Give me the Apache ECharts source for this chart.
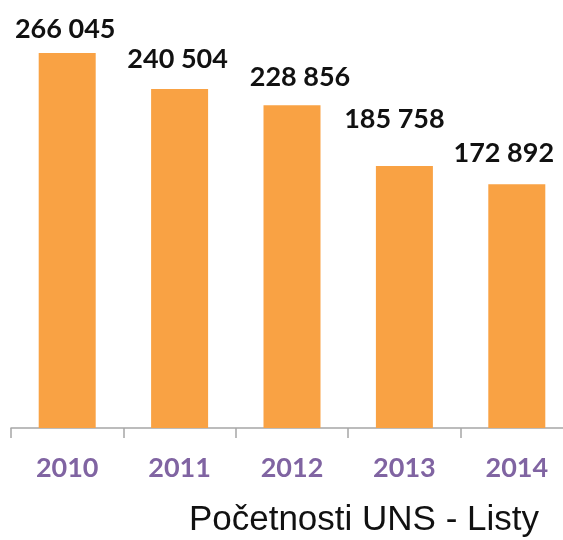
<!DOCTYPE html>
<html>
<head>
<meta charset="utf-8">
<script src="https://cdn.jsdelivr.net/npm/echarts@6/dist/echarts.min.js"></script>
<style>
  html, body { margin: 0; padding: 0; background: #fff; }
  #chart { width: 563px; height: 540px; }
</style>
</head>
<body>
<div id="chart"></div>
<script>
// roky a počty
var years = ['2010', '2011', '2012', '2013', '2014'];
var counts = [266045, 240504, 228856, 185758, 172892];
var chartTitle = 'Početnosti UNS - Listy';

// 266045 -> "266 045"
function fmt(v) {
  return String(v).replace(/\B(?=(\d{3})+(?!\d))/g, ' ');
}

// popisky v originale nejsou presne nad sloupci, posunuto rucne
var labelNudge = [[-2, 0], [-2, -6], [8, -5], [-10, -23], [-13, -7]];

var chart = echarts.init(document.getElementById('chart'));
var option = {
  backgroundColor: '#ffffff',
  animation: false,
  title: {
    text: chartTitle,
    right: 19,
    bottom: -3,
    textStyle: {
      fontFamily: 'Liberation Sans',
      fontWeight: 'normal',
      fontSize: 35,
      color: '#111'
    }
  },
  grid: {
    left: 11,
    width: 562,
    top: 5,
    bottom: 112,
    outerBoundsMode: 'none',
    containLabel: false
  },
  xAxis: {
    type: 'category',
    data: years,
    axisLine: { lineStyle: { color: '#a6a6a6', width: 1.5 } },
    axisTick: { show: true, length: 10, lineStyle: { color: '#a6a6a6', width: 1.5 } },
    axisLabel: {
      margin: 27,
      color: '#8064a2',
      fontFamily: 'Lato',
      fontWeight: 'bold',
      fontSize: 27
    }
  },
  yAxis: {
    type: 'value',
    min: 0,
    max: 300000,
    show: false,
    splitLine: { show: false }
  },
  series: [
    {
      type: 'bar',
      data: counts.map(function (v, i) {
        return { value: v, label: { offset: labelNudge[i] } };
      }),
      barWidth: 57,
      itemStyle: { color: '#f9a244' },
      label: {
        show: true,
        position: 'top',
        distance: 10,
        formatter: function (p) { return fmt(p.value); },
        color: '#111',
        fontFamily: 'Lato',
        fontWeight: 'bold',
        fontSize: 27
      }
    }
  ]
};
chart.setOption(option);
</script>
</body>
</html>
